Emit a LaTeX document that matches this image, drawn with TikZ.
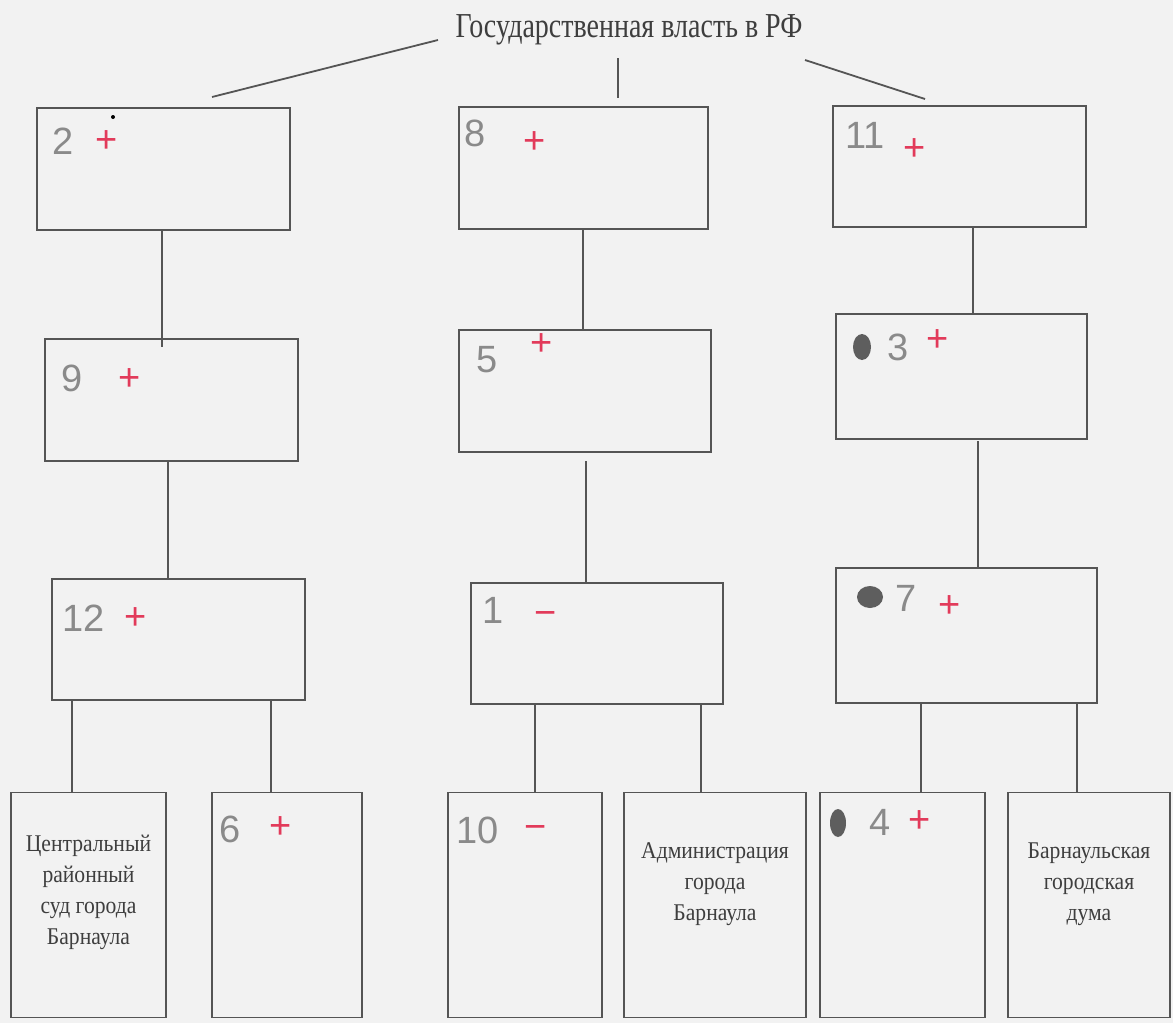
\documentclass[tikz,border=0pt]{standalone}
\usepackage{fontspec}
\setmainfont{Liberation Serif}
\newfontfamily\handfont{Liberation Sans}
\usepackage{graphicx}
\definecolor{paper}{HTML}{F2F2F2}
\definecolor{ink}{HTML}{555555}
\definecolor{printink}{HTML}{3E3E3E}
\definecolor{pencil}{HTML}{8A8A8A}
\definecolor{redmark}{HTML}{E23A5A}
\definecolor{blobc}{HTML}{5E5E5E}
\tikzset{
  box/.style={draw=ink, line width=1.8, inner sep=0pt, outer sep=0pt},
  link/.style={draw=ink, line width=1.8},
  hw/.style={text=pencil, inner sep=0pt, font=\handfont\fontsize{38}{38}\selectfont},
  mk/.style={text=redmark, inner sep=0pt, font=\handfont\fontsize{38}{38}\selectfont},
  printed/.style={text=printink, align=center, inner sep=0pt, font=\fontsize{24}{31}\selectfont},
}
\begin{document}
\begin{tikzpicture}[x=1pt,y=-1pt]
\useasboundingbox[fill=paper] (0,0) rectangle (1173,1023);

% title
\node[text=printink, anchor=base, inner sep=0pt, font=\fontsize{35}{40}\selectfont] (title) at (629,37) {\scalebox{0.8}[1]{Государственная власть в РФ}};

% column boxes
\node[box, minimum width=253, minimum height=122] (b2)  at (163.5,169) {};
\node[box, minimum width=253, minimum height=122] (b9)  at (171.5,400) {};
\node[box, minimum width=253, minimum height=121] (b12) at (178.5,639.5) {};
\node[box, minimum width=249, minimum height=122] (b8)  at (583.5,168) {};
\node[box, minimum width=252, minimum height=122] (b5)  at (585,391) {};
\node[box, minimum width=252, minimum height=121] (b1)  at (597,643.5) {};
\node[box, minimum width=253, minimum height=121] (b11) at (959.5,166.5) {};
\node[box, minimum width=251, minimum height=125] (b3)  at (961.5,376.5) {};
\node[box, minimum width=261, minimum height=135] (b7)  at (966.5,635.5) {};

% bottom boxes
\node[box, minimum width=155, minimum height=225] (c1) at (88.5,905) {};
\node[box, minimum width=150, minimum height=225] (c2) at (287,905) {};
\node[box, minimum width=154, minimum height=225] (c3) at (525,905) {};
\node[box, minimum width=182, minimum height=225] (c4) at (715,905) {};
\node[box, minimum width=165, minimum height=225] (c5) at (902.5,905) {};
\node[box, minimum width=162, minimum height=225] (c6) at (1089,905) {};

% printed texts
\node[printed] (t1) at (88.5,892) {\scalebox{0.9}[1]{Центральный}\\\scalebox{0.9}[1]{районный}\\\scalebox{0.9}[1]{суд города}\\\scalebox{0.9}[1]{Барнаула}};
\node[printed] (t4) at (715,884) {\scalebox{0.9}[1]{Администрация}\\\scalebox{0.9}[1]{города}\\\scalebox{0.9}[1]{Барнаула}};
\node[printed] (t6) at (1089,884) {\scalebox{0.9}[1]{Барнаульская}\\\scalebox{0.9}[1]{городская}\\\scalebox{0.9}[1]{дума}};

% lines from the title
\coordinate (tA) at (438,40);
\coordinate (tB) at (212,97);
\coordinate (tC) at (618,58);
\coordinate (tD) at (618,98);
\coordinate (tE) at (805,60);
\coordinate (tF) at (925,99);
\draw[link] (tA) -- (tB);
\draw[link, line width=1.2] (tC) -- (tD);
\draw[link] (tE) -- (tF);

% vertical connectors
\draw[link] (b2.south -| 162,0) -- ([yshift=-8]b9.north -| 162,0);
\draw[link] (b9.south -| 168,0) -- (b12.north -| 168,0);
\draw[link] (b8.south -| 583,0) -- (b5.north -| 583,0);
\draw[link] ([yshift=-9]b5.south -| 586,0) -- (b1.north -| 586,0);
\draw[link] (b11.south -| 973,0) -- (b3.north -| 973,0);
\draw[link] ([yshift=-2]b3.south -| 978,0) -- (b7.north -| 978,0);

\draw[link] (b12.south -| 72,0) -- (c1.north -| 72,0);
\draw[link] (b12.south -| 271,0) -- (c2.north -| 271,0);
\draw[link] (b1.south -| 535,0) -- (c3.north -| 535,0);
\draw[link] (b1.south -| 701,0) -- (c4.north -| 701,0);
\draw[link] (b7.south -| 921,0) -- (c5.north -| 921,0);
\draw[link] (b7.south -| 1077,0) -- (c6.north -| 1077,0);

% handwritten marks
\node[hw] (n2) at (63,141) {2};
\node[mk] (p2) at (107,142) {+};
\fill[black] (113,117) circle (2);
\node[hw] (n9) at (72,378) {9};
\node[mk] (p9) at (130,380) {+};
\node[hw] (n12) at (84,618) {12};
\node[mk] (p12) at (136,619) {+};

\node[hw] (n8) at (475,133) {8};
\node[mk] (p8) at (535,143) {+};
\node[hw] (n5) at (487,360) {5};
\node[mk] (p5) at (542,345) {+};
\node[hw] (n1) at (493,610) {1};
\node[mk] (m1) at (546,618) {−};

\node[hw] (n11) at (865,135) {11};
\node[mk] (p11) at (915,150) {+};
\fill[blobc] (862,347) ellipse [x radius=9, y radius=13];
\node[hw] (n3) at (898,347) {3};
\node[mk] (p3) at (938,341) {+};
\fill[blobc] (870,597) ellipse [x radius=13, y radius=11];
\node[hw] (n7) at (906,598) {7};
\node[mk] (p7) at (950,607) {+};

\node[hw] (n6) at (230,829) {6};
\node[mk] (p6) at (281,828) {+};
\node[hw] (n10) at (478,830) {10};
\node[mk] (m10) at (536,832) {−};
\fill[blobc] (838,823) ellipse [x radius=8, y radius=14];
\node[hw] (n4) at (880,822) {4};
\node[mk] (p4) at (920,822) {+};
\end{tikzpicture}
\end{document}
